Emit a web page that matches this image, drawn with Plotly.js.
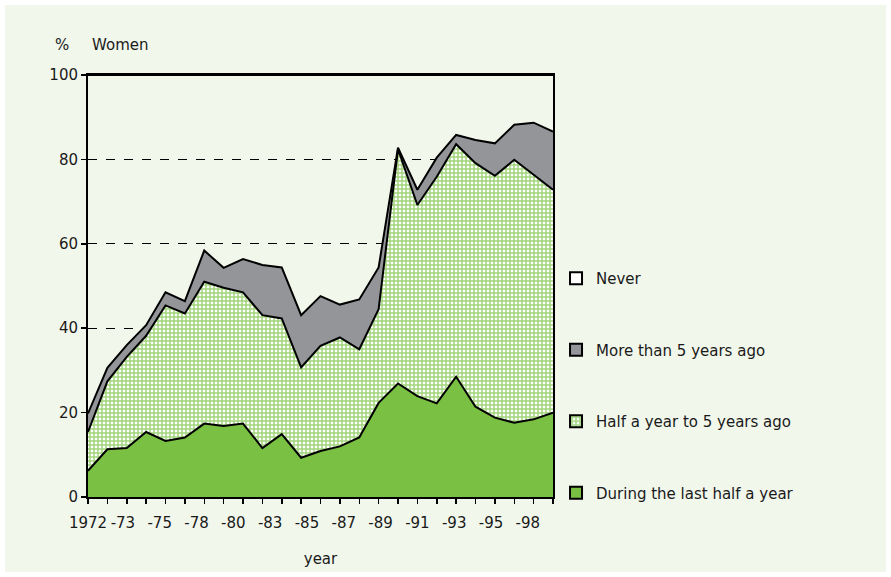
<!DOCTYPE html>
<html>
<head>
<meta charset="utf-8">
<script src="https://cdn.plot.ly/plotly-3.0.1.min.js"></script>
<style>
  html, body { margin: 0; padding: 0; background: #ffffff; }
  #chart { position: absolute; left: 5px; top: 5px; width: 881px; height: 567px; }
</style>
</head>
<body>
<div id="chart"></div>
<script>
// Category index 0..24 (one point per survey)
const pointIndex = [0,1,2,3,4,5,6,7,8,9,10,11,12,13,14,15,16,17,18,19,20,21,22,23,24];

// Tick labels shown on the x axis
const tickLabels = ["1972","-73","-75","-78","-80","-83","-85","-87","-89","-91","-93","-95","-98"];
const tickLabelPos = [0,1.8,3.7,5.6,7.5,9.4,11.3,13.2,15.1,17.0,18.9,20.8,22.7];

// Series values (%)
const lastHalfYear = [6.2,11.3,11.6,15.4,13.3,14.1,17.4,16.8,17.4,11.6,14.9,9.3,10.9,12.0,14.1,22.3,26.9,23.9,22.2,28.5,21.4,18.8,17.6,18.4,20.0];
const halfTo5Years = [9.2,16.1,21.6,22.8,32.1,29.4,33.6,32.8,31.1,31.5,27.4,21.4,24.9,25.8,20.9,22.2,55.5,45.3,53.7,55.1,57.7,57.3,62.3,57.9,52.8];
const moreThan5Years = [4.4,3.2,2.8,2.5,3.1,2.9,7.4,4.7,7.9,11.9,12.1,12.4,11.8,7.8,11.8,9.9,0.4,3.6,4.5,2.2,5.5,7.7,8.3,12.4,13.8];
const never = [80.2,69.4,64.0,59.3,51.5,53.6,41.6,45.7,43.6,45.0,45.6,56.9,52.4,54.4,53.2,45.6,17.2,27.2,19.6,14.2,15.4,16.2,11.8,11.3,13.4];

const seriesNames = ["During the last half a year","Half a year to 5 years ago","More than 5 years ago","Never"];

const GREEN = "#7ac143";
const GRAY = "#939598";
const PATTERN = {shape: "+", fgcolor: "#a2d57c", bgcolor: "#ffffff", size: 4, solidity: 0.6};
const BG = "#f2f7ec";
const FONT = "DejaVu Sans";

function area(y, name, fillcolor, pattern) {
  const t = {
    type: "scatter", mode: "lines", x: pointIndex, y: y, name: name,
    stackgroup: "s", showlegend: false, hoverinfo: "skip",
    line: {color: "#000000", width: 2},
    fillcolor: fillcolor
  };
  if (pattern) t.fillpattern = pattern;
  return t;
}
function legendItem(name, color, pattern) {
  const m = {color: color, line: {color: "#000000", width: 2}};
  if (pattern) m.pattern = pattern;
  return {type: "bar", x: [null], y: [null], name: name, legendgroup: name, marker: m, showlegend: true, hoverinfo: "skip"};
}

const data = [
  area(lastHalfYear, seriesNames[0], GREEN),
  area(halfTo5Years, seriesNames[1], "#ffffff", PATTERN),
  area(moreThan5Years, seriesNames[2], GRAY),
  area(never, seriesNames[3], "rgba(0,0,0,0)"),
  legendItem(seriesNames[3], "#ffffff"),
  legendItem(seriesNames[2], GRAY),
  legendItem(seriesNames[1], "#d4ecc0", {shape: ".", fgcolor: "#ffffff", bgcolor: "#a9d98a", size: 5, solidity: 0.3}),
  legendItem(seriesNames[0], GREEN)
];

const layout = {
  width: 881, height: 567,
  margin: {l: 83, r: 333, t: 70, b: 75},
  paper_bgcolor: BG, plot_bgcolor: BG,
  font: {family: FONT, size: 15, color: "#1a1a1a"},
  showlegend: true,
  legend: {
    x: 1.0065, xanchor: "left", y: 0.557, yanchor: "top",
    traceorder: "grouped", tracegroupgap: 49,
    bgcolor: "rgba(0,0,0,0)", font: {family: FONT, size: 15, color: "#1a1a1a"}
  },
  xaxis: {
    range: [0, 24], tickmode: "array", tickvals: tickLabelPos, ticktext: tickLabels,
    ticks: "outside", ticklen: 11, tickcolor: "rgba(0,0,0,0)",
    minor: {tickmode: "linear", tick0: 0, dtick: 1, ticks: "outside", ticklen: 5, tickcolor: "#000000", tickwidth: 1.5, showgrid: false},
    showline: true, linecolor: "#000000", linewidth: 2, mirror: true,
    showgrid: false, zeroline: false, fixedrange: true,
    title: {text: "year", standoff: 22, font: {family: FONT, size: 15}}
  },
  yaxis: {
    range: [0, 100], dtick: 20, tick0: 0,
    ticks: "outside", ticklen: 5, tickwidth: 1.5, tickcolor: "#000000",
    showline: true, linecolor: "#000000", linewidth: 2, mirror: true,
    showgrid: true, gridcolor: "#000000", griddash: "dash", gridwidth: 1,
    zeroline: false, fixedrange: true
  },
  annotations: [
    {text: "%", xref: "paper", yref: "paper", x: -0.056, y: 1.071, xanchor: "center", yanchor: "middle", showarrow: false, font: {family: FONT, size: 15}},
    {text: "Women", xref: "paper", yref: "paper", x: 0.004, y: 1.071, xanchor: "left", yanchor: "middle", showarrow: false, font: {family: FONT, size: 15}}
  ]
};

Plotly.newPlot("chart", data, layout, {displayModeBar: false, staticPlot: true});
</script>
</body>
</html>
